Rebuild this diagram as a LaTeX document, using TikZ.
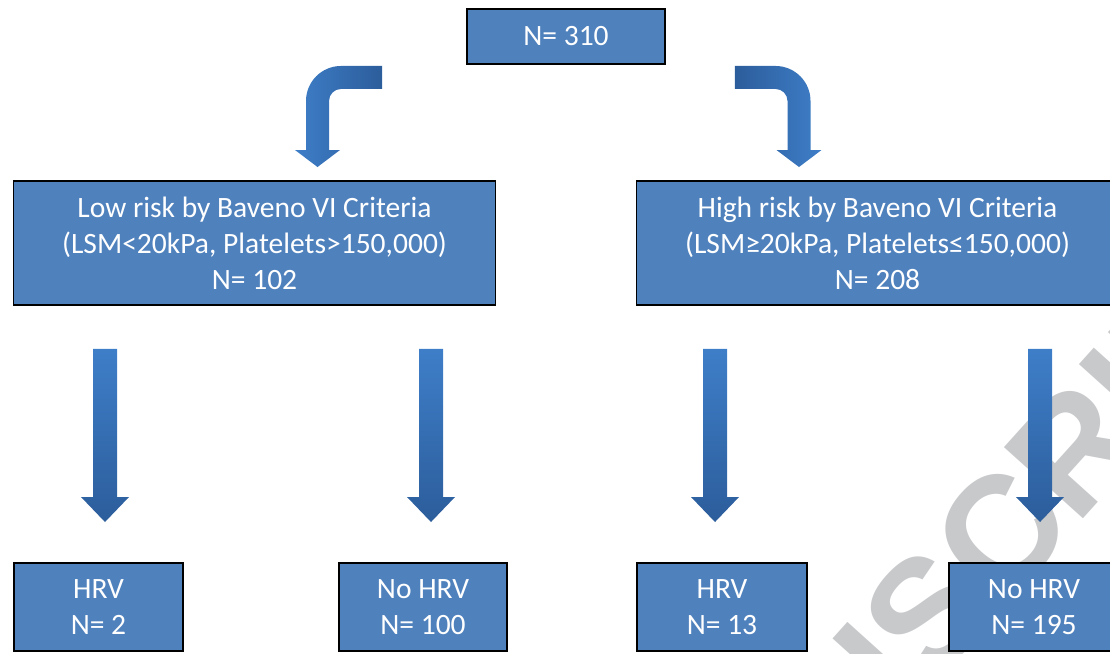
\documentclass[tikz,border=0pt]{standalone}
\usepackage{fontspec}
\setmainfont{Carlito}
\newfontfamily\markfont{Liberation Sans}
\usetikzlibrary{calc}

\definecolor{boxblue}{RGB}{79,129,189}
\definecolor{arrowlight}{RGB}{62,126,200}
\definecolor{arrowdark}{RGB}{44,93,155}
\definecolor{markgray}{RGB}{200,201,203}

% bent block arrow: #1 shading, #2 tail, #3 tip, #4 side (-1 left, 1 right)
\newcommand{\bentarrow}[4]{%
  \shade[#1] let \p1=(#2), \p2=(#3) in
    (\x1,\y1)
    -- ({\x2+(#4)*(\bw-\bro)},\y1)
    arc[start angle=90, delta angle={-(#4)*90}, radius=\bro]
    -- ({\x2+(#4)*\bw},{\y2+\bhl})
    -- ({\x2+(#4)*\bhh},{\y2+\bhl})
    -- (\x2,\y2)
    -- ({\x2-(#4)*\bhh},{\y2+\bhl})
    -- ({\x2-(#4)*\bw},{\y2+\bhl})
    -- ({\x2-(#4)*\bw},{\y1-\bro})
    arc[start angle={90-(#4)*90}, delta angle={(#4)*90}, radius=\bri]
    -- (\x1,{\y1-2*\bw})
    -- cycle;}

\begin{document}
\begin{tikzpicture}[
  box/.style={draw=black, line width=1.4pt, fill=boxblue, text=white,
    inner sep=0pt, align=center, font=\fontsize{21}{25.7}\selectfont},
  downshade/.style={top color=arrowlight, bottom color=arrowdark},
]

% Straight arrow dimensions
\def\sw{0.3cm}      % half shaft width
\def\hh{0.6cm}      % half head width
\def\hl{0.625cm}    % head length
\def\ga{1.075cm}    % gap under parent box
\def\gb{1.0cm}      % gap above child box

% Bent arrow dimensions
\def\bw{0.2875cm}   % half shaft width
\def\bhh{0.5625cm}  % half head width
\def\bhl{0.425cm}   % head length
\def\bro{0.875cm}   % outer radius
\def\bri{0.3cm}     % inner radius

\useasboundingbox (0,0) rectangle (27.75,-16.35);
\clip (0,0) rectangle (27.75,-16.35);

% ============================================================
% WATERMARK
% ============================================================
\node[rotate=48, text=markgray, font=\markfont\bfseries\fontsize{110}{110}\selectfont]
  (mark) at (23.2,-15.3) {MANUSCRIPT};

% ============================================================
% BOXES
% ============================================================
\node[box, minimum width=4.95cm, minimum height=1.375cm]
  (total) at (14.15,-0.9125) {N= 310};

\node[box, minimum width=12.05cm, minimum height=3.1cm]
  (low) at (6.3625,-6.075) {%
  Low risk by Baveno VI Criteria\\
  (LSM<20kPa, Platelets>150,000)\\
  N= 102};
\node[box, minimum width=12.05cm, minimum height=3.1cm]
  (high) at (21.9375,-6.075) {%
  High risk by Baveno VI Criteria\\
  (LSM≥20kPa, Platelets≤150,000)\\
  N= 208};

\node[box, minimum width=4.225cm, minimum height=2.2cm]
  (hrvA) at (2.4625,-15.175) {HRV\\N= 2};
\node[box, minimum width=4.2cm, minimum height=2.2cm]
  (nohrvA) at (10.575,-15.175) {No HRV\\N= 100};
\node[box, minimum width=4.25cm, minimum height=2.2cm]
  (hrvB) at (18.05,-15.175) {HRV\\N= 13};
\node[box, minimum width=4.25cm, minimum height=2.2cm]
  (nohrvB) at (25.85,-15.175) {No HRV\\N= 195};

% ============================================================
% ARROWS
% ============================================================
\coordinate (ltail) at ($(total.south west)+(-2.1,-0.025)$);
\coordinate (ltip)  at ($(low.north)+(1.575,0.325)$);
\coordinate (rtail) at ($(total.south east)+(1.725,-0.025)$);
\coordinate (rtip)  at ($(high.north)+(-1.9625,0.325)$);

\bentarrow{left color=arrowlight, right color=arrowdark}{ltail}{ltip}{-1}
\bentarrow{left color=arrowdark, right color=arrowlight}{rtail}{rtip}{1}

\foreach \up/\down/\dx in {low/hrvA/0.1625cm, low/nohrvA/0.2cm,
                           high/hrvB/-0.175cm, high/nohrvB/0.15cm} {
  \shade[downshade] let \p1=(\up.south), \p2=(\down.north) in
    ({\x2+(\dx)-\sw},{\y1-\ga}) -- ({\x2+(\dx)+\sw},{\y1-\ga})
    -- ({\x2+(\dx)+\sw},{\y2+\gb+\hl}) -- ({\x2+(\dx)+\hh},{\y2+\gb+\hl})
    -- ({\x2+(\dx)},{\y2+\gb})
    -- ({\x2+(\dx)-\hh},{\y2+\gb+\hl}) -- ({\x2+(\dx)-\sw},{\y2+\gb+\hl})
    -- cycle;
}

\end{tikzpicture}
\end{document}
